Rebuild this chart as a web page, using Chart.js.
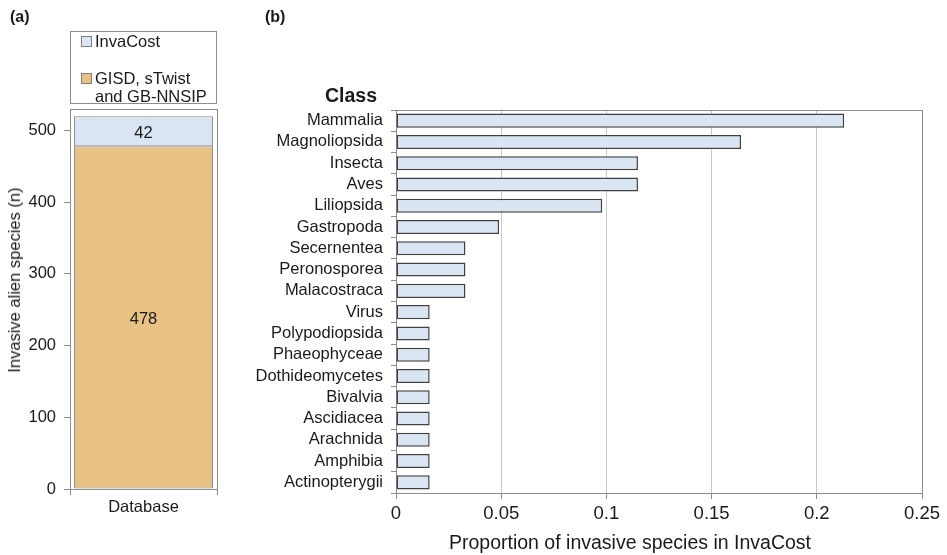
<!DOCTYPE html>
<html>
<head>
<meta charset="utf-8">
<script src="https://cdn.jsdelivr.net/npm/chart.js@4.4.1/dist/chart.umd.min.js"></script>
<style>
  body { margin: 0; width: 947px; height: 555px; position: relative; overflow: hidden; background: #fff;
         font-family: "Liberation Sans", Arial, sans-serif; color: #1a1a1a; }
  canvas { position: absolute; top: 0; }
  #chartA { left: 0; }
  #chartB { left: 240px; }
  .tag { position: absolute; font-weight: bold; font-size: 16px; line-height: 18px; top: 8px; }
  #classTitle { position: absolute; font-weight: bold; font-size: 19.5px; line-height: 22px; top: 84px; right: 570px; }
  #yTitleA { position: absolute; font-size: 16.5px; line-height: 20px; white-space: nowrap;
             left: 14px; top: 280px; transform: translate(-50%, -50%) rotate(-90deg); }
  #xTitleB { position: absolute; font-size: 19.5px; line-height: 22px; white-space: nowrap;
             left: 630px; top: 542px; transform: translate(-50%, -50%); }
  #legendA { position: absolute; left: 70px; top: 31px; width: 145px; height: 71px; border: 1px solid #8c8c8c; }
  .item { position: absolute; left: 10px; display: flex; align-items: flex-start; font-size: 16.5px; line-height: 18px; }
  .swatch { width: 9px; height: 9px; border: 1px solid #7f7f7f; margin: 4px 3px 0 0; flex: none; }
  .item span { width: 122px; }
</style>
</head>
<body>
<canvas id="chartA" width="230" height="555"></canvas>
<canvas id="chartB" width="707" height="555"></canvas>
<div class="tag" style="left:10px">(a)</div>
<div class="tag" style="left:265px">(b)</div>
<div id="legendA"></div>
<div id="yTitleA">Invasive alien species (n)</div>
<div id="classTitle">Class</div>
<div id="xTitleB">Proportion of invasive species in InvaCost</div>
<script>
// panel (a): species per database
const dbCategories = ['Database'];
const countOtherDbs = [478];
const countInvaCost = [42];
const countTicks = [0, 100, 200, 300, 400, 500];

// panel (b): share of InvaCost species by class
const classNames = ['Mammalia', 'Magnoliopsida', 'Insecta', 'Aves', 'Liliopsida', 'Gastropoda',
  'Secernentea', 'Peronosporea', 'Malacostraca', 'Virus', 'Polypodiopsida', 'Phaeophyceae',
  'Dothideomycetes', 'Bivalvia', 'Ascidiacea', 'Arachnida', 'Amphibia', 'Actinopterygii'];
const shareInvaCost = [0.213, 0.164, 0.115, 0.115, 0.098, 0.049,
  0.033, 0.033, 0.033, 0.016, 0.016, 0.016,
  0.016, 0.016, 0.016, 0.016, 0.016, 0.016];
const shareTicks = [0, 0.05, 0.1, 0.15, 0.2, 0.25];

const BLUE = '#dae5f3';
const ORANGE = '#e8c283';
const AXIS = '#8c8c8c';
const TEXT = '#1a1a1a';
const FONT = '"Liberation Sans", Arial, sans-serif';

// gray box round the plot area
const plotFrame = {
  id: 'plotFrame',
  beforeDatasetsDraw(chart) {
    const { ctx, chartArea: a } = chart;
    ctx.save();
    ctx.strokeStyle = AXIS;
    ctx.lineWidth = 1;
    ctx.strokeRect(Math.round(a.left) + 0.5, Math.round(a.top) + 0.5,
      Math.round(a.right - a.left), Math.round(a.bottom - a.top));
    ctx.restore();
  }
};

// value in the middle of each stacked segment
const segmentLabels = {
  id: 'segmentLabels',
  afterDatasetsDraw(chart) {
    const ctx = chart.ctx;
    ctx.save();
    ctx.font = '16.5px ' + FONT;
    ctx.fillStyle = TEXT;
    ctx.textAlign = 'center';
    ctx.textBaseline = 'middle';
    chart.data.datasets.forEach((ds, i) => {
      chart.getDatasetMeta(i).data.forEach((bar, j) => {
        const p = bar.getProps(['x', 'y', 'base'], true);
        ctx.fillText(ds.data[j], p.x, (p.y + p.base) / 2 + 2);
      });
    });
    ctx.restore();
  }
};

const chartA = new Chart(document.getElementById('chartA'), {
  type: 'bar',
  data: {
    labels: dbCategories,
    datasets: [
      { label: 'GISD, sTwist and GB-NNSIP', data: countOtherDbs, backgroundColor: ORANGE,
        borderColor: '#8c8c8c', borderWidth: 1, borderSkipped: false, barPercentage: 0.946, categoryPercentage: 1 },
      { label: 'InvaCost', data: countInvaCost, backgroundColor: BLUE,
        borderColor: '#8c8c8c', borderWidth: 1, borderSkipped: false, barPercentage: 0.946, categoryPercentage: 1 }
    ]
  },
  options: {
    responsive: false,
    animation: false,
    layout: { padding: { top: 109, right: 13, left: 0, bottom: 0 } },
    plugins: { legend: { display: false }, tooltip: { enabled: false } },
    scales: {
      x: {
        stacked: true,
        grid: { drawOnChartArea: false, tickLength: 6, color: AXIS },
        border: { color: AXIS },
        ticks: { color: TEXT, font: { family: FONT, size: 16.5 }, padding: 3 },
        afterFit: s => { s.height = 66; }
      },
      y: {
        stacked: true,
        min: 0,
        max: 530,
        afterBuildTicks: s => { s.ticks = countTicks.map(v => ({ value: v })); },
        grid: { drawOnChartArea: false, tickLength: 6, color: AXIS },
        border: { color: AXIS },
        ticks: { color: TEXT, font: { family: FONT, size: 16.5 }, padding: 8 },
        afterFit: s => { s.width = 70; }
      }
    }
  },
  plugins: [plotFrame, segmentLabels]
});

// legend for panel (a), InvaCost listed first
const legendBox = document.getElementById('legendA');
const legendTops = [32, 69];
[1, 0].forEach((di, k) => {
  const ds = chartA.data.datasets[di];
  const item = document.createElement('div');
  item.className = 'item';
  item.style.top = (legendTops[k] - 32) + 'px';
  item.innerHTML = `<div class="swatch" style="background:${ds.backgroundColor}"></div><span>${ds.label}</span>`;
  legendBox.appendChild(item);
});

new Chart(document.getElementById('chartB'), {
  type: 'bar',
  data: {
    labels: classNames,
    datasets: [{
      label: 'Proportion of invasive species in InvaCost',
      data: shareInvaCost,
      backgroundColor: BLUE,
      borderColor: '#404040',
      borderWidth: 1.5,
      borderSkipped: false,
      barPercentage: 1,
      categoryPercentage: 0.66
    }]
  },
  options: {
    indexAxis: 'y',
    responsive: false,
    animation: false,
    layout: { padding: { top: 110, right: 25, left: 0, bottom: 0 } },
    plugins: { legend: { display: false }, tooltip: { enabled: false } },
    scales: {
      x: {
        min: 0,
        max: 0.25,
        afterBuildTicks: s => { s.ticks = shareTicks.map(v => ({ value: v })); },
        grid: {
          color: c => (c.tick && c.tick.value === 0.25) ? AXIS : '#c8c8c8',
          tickColor: AXIS,
          tickLength: 6
        },
        border: { color: AXIS },
        ticks: { color: TEXT, font: { family: FONT, size: 18.5 }, padding: 4, callback: v => String(v) },
        afterFit: s => { s.height = 62; }
      },
      y: {
        grid: { drawOnChartArea: false, tickLength: 5, color: AXIS },
        border: { color: AXIS },
        ticks: { color: TEXT, font: { family: FONT, size: 16.5 }, padding: 8, autoSkip: false },
        afterFit: s => { s.width = 156; }
      }
    }
  },
  plugins: [plotFrame]
});
</script>
</body>
</html>
